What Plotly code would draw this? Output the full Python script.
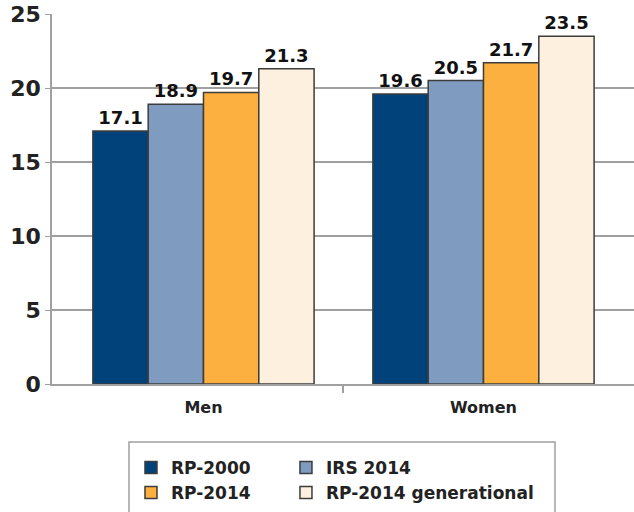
import plotly.graph_objects as go

categories = ["Men", "Women"]
series_names = ["RP-2000", "IRS 2014", "RP-2014", "RP-2014 generational"]
rp2000 = [17.1, 19.6]
irs2014 = [18.9, 20.5]
rp2014 = [19.7, 21.7]
rp2014_gen = [21.3, 23.5]
colors = ["#02427a", "#7f9bc0", "#fbb040", "#fef0de"]
y_ticks = [0, 5, 10, 15, 20, 25]
legend_of = ["legend", "legend2", "legend", "legend2"]

FONT = "DejaVu Sans"
xpos = list(range(len(categories)))
fig = go.Figure()
for name, vals, col, lg in zip(series_names, [rp2000, irs2014, rp2014, rp2014_gen], colors, legend_of):
    fig.add_trace(go.Bar(
        x=xpos, y=vals, name=name, legend=lg,
        marker=dict(color=col, line=dict(color="#3c3c3c", width=1.5)),
        text=[f"{v:.1f}" for v in vals], textposition="outside",
        textfont=dict(family=FONT, size=18, color="#111111", weight="bold"),
        cliponaxis=False,
    ))

leg_common = dict(
    orientation="v", yanchor="top", borderwidth=0, bgcolor="rgba(0,0,0,0)",
    font=dict(family=FONT, size=17, color="#222222", weight="bold"),
    traceorder="normal", tracegroupgap=0,
)

fig.update_layout(
    width=634, height=512,
    margin=dict(l=52, r=0, t=14, b=128),
    plot_bgcolor="white", paper_bgcolor="white",
    barmode="group", bargap=0.21, bargroupgap=0,
    font=dict(family=FONT, color="#222222"),
    xaxis=dict(
        range=[-0.541, 1.5375], showgrid=False, automargin=False,
        showline=True, linecolor="#a0a0a0", linewidth=1.5,
        tickvals=xpos, ticktext=categories, ticks="", ticklabelstandoff=8,
        minor=dict(tickvals=[0.5], ticks="outside", ticklen=7, tickcolor="#a0a0a0", tickwidth=1.5, showgrid=False),
        tickfont=dict(family=FONT, size=16, color="#222222", weight="bold"),
    ),
    yaxis=dict(
        range=[0, 25], tickvals=y_ticks, showgrid=True, gridcolor="#a0a0a0", gridwidth=1.5,
        showline=True, linecolor="#a0a0a0", linewidth=1.5, automargin=False,
        ticks="outside", ticklen=5, tickcolor="#a0a0a0",
        tickfont=dict(family=FONT, size=22, color="#222222", weight="bold"),
        zeroline=False,
    ),
    legend=dict(x=0.1357, y=-0.178, **leg_common),
    legend2=dict(x=0.402, y=-0.178, **leg_common),
    shapes=[dict(type="rect", xref="paper", yref="paper",
                 x0=(129 - 52) / 582, x1=(555 - 52) / 582,
                 y0=(384 - 530) / 370, y1=(384 - 442) / 370,
                 line=dict(color="#a0a0a0", width=1.5), fillcolor="rgba(0,0,0,0)")],
)

fig.write_html("out.html", config={"displayModeBar": False},
               post_script="document.body.style.margin='0';document.body.style.overflow='hidden';")
